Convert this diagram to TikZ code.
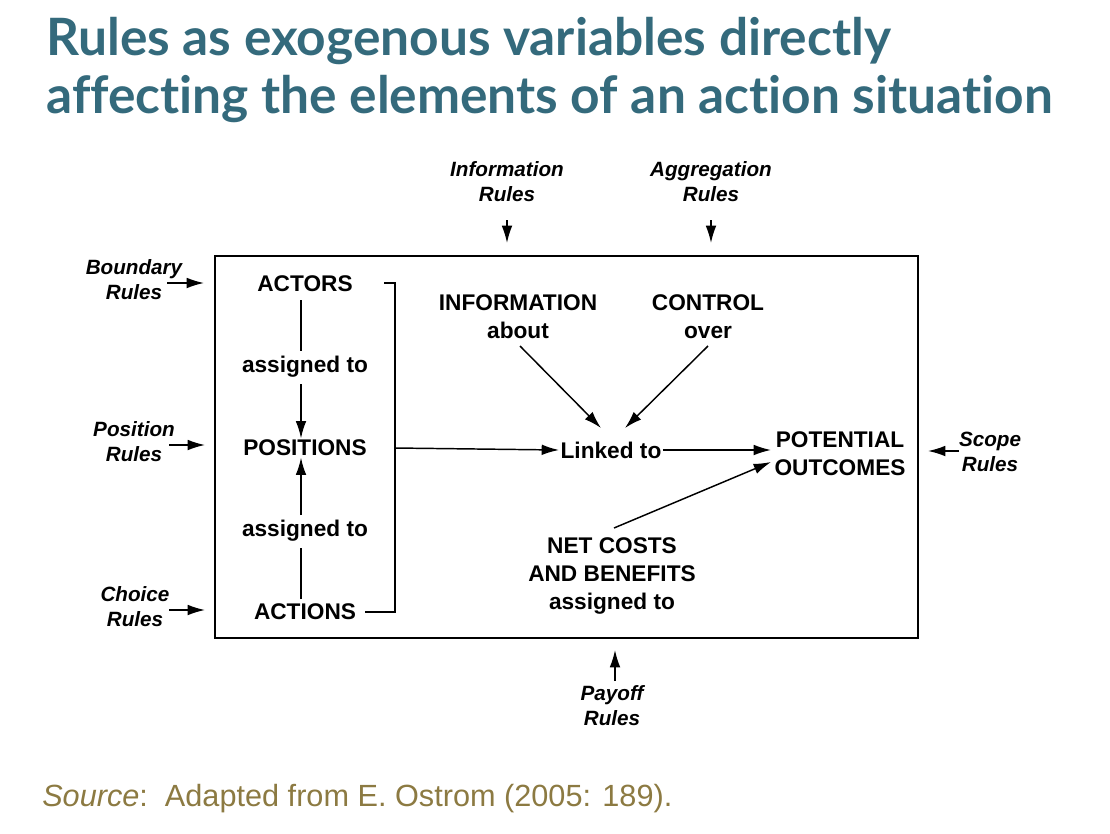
\documentclass[tikz,border=0pt]{standalone}
\usepackage{fontspec}
\setmainfont{Liberation Sans}
\newfontfamily\titlefont[Ligatures=NoCommon]{Lato}
\usetikzlibrary{arrows.meta}
\definecolor{titleblue}{RGB}{52,106,124}
\definecolor{sourcegold}{RGB}{140,122,66}
\tikzset{
  elem/.style={font=\fontsize{17}{21}\selectfont\bfseries, inner sep=1pt, align=center},
  rule/.style={font=\fontsize{15.5}{18.8}\selectfont\bfseries\itshape, inner sep=1pt, align=center},
  conn/.style={line width=1.1pt, -{Latex[length=13pt,width=8pt]}},
  plain/.style={line width=1.1pt},
  frame/.style={line width=1.5pt},
  heading/.style={anchor=base west, inner sep=0, text=titleblue, font=\fontsize{38.6}{44}\selectfont\titlefont\bfseries},
}
\begin{document}
\begin{tikzpicture}[x=0.75pt,y=-0.75pt]
\useasboundingbox (0,0) rectangle (1110,833);

% heading
\node[heading] (t1) at (46,55) {Rules as exogenous variables directly};
\node[heading] (t2) at (46,113) {affecting the elements of an action situation};

% action situation frame
\draw[frame] (215,256) rectangle (918,638);

% left column
\node[elem] (actors) at (305,284) {ACTORS};
\node[elem] (asg1) at (305,367) {assigned to};
\node[elem] (positions) at (305,448) {POSITIONS};
\node[elem] (asg2) at (305,531) {assigned to};
\node[elem] (actions) at (305,612) {ACTIONS};

\coordinate (c1) at (301,300);
\coordinate (c2) at (301,351);
\coordinate (c3) at (301,384);
\coordinate (c4) at (301,599);
\coordinate (c5) at (301,548);
\coordinate (c6) at (301,515);
\draw[plain] (c1) -- (c2);
\draw[conn] (c3) -- (c3 |- positions.north);
\draw[plain] (c4) -- (c5);
\draw[conn] (c6) -- (c6 |- positions.south);

% bracket gathering the left column
\coordinate (bl) at (384,283);
\coordinate (bt) at (395,283);
\coordinate (bb) at (395,612);
\coordinate (br) at (365,612);
\coordinate (bm) at (395,448);
\draw[plain] (bl) -- (bt) -- (bb) -- (br);

% middle
\node[elem] (info) at (518,317) {INFORMATION\\about};
\node[elem] (ctrl) at (708,317) {CONTROL\\over};
\node[elem] (linked) at (611,450) {Linked to};
\node[elem] (outc) at (840,454) {POTENTIAL\\OUTCOMES};
\node[elem] (net) at (612,576) {NET COSTS\\AND BENEFITS\\assigned to};

\coordinate (i1) at (520,346);
\coordinate (i2) at (601,428);
\coordinate (k1) at (708,346);
\coordinate (k2) at (625,428);
\coordinate (n1) at (614,528);
\coordinate (o1) at (771,450);
\coordinate (o2) at (771,462);
\draw[conn] (bm) -- (linked.west);
\draw[conn] (i1) -- (i2);
\draw[conn] (k1) -- (k2);
\draw[conn] (linked.east) -- (o1);
\draw[conn] (n1) -- (o2);

% exogenous rules
\node[rule] (inforule) at (507,182) {Information\\Rules};
\node[rule] (aggrule) at (711,182) {Aggregation\\Rules};
\node[rule] (boundrule) at (134,280) {Boundary\\Rules};
\node[rule] (posrule) at (134,442) {Position\\Rules};
\node[rule] (choicerule) at (135,607) {Choice\\Rules};
\node[rule] (scoperule) at (990,452) {Scope\\Rules};
\node[rule] (payrule) at (612,706) {Payoff\\Rules};

\coordinate (r1) at (507,220);
\coordinate (r2) at (711,220);
\coordinate (r3) at (167,283);
\coordinate (r4) at (169,445);
\coordinate (r5) at (169,610);
\coordinate (r6) at (959,451);
\coordinate (r7) at (615,681);
\draw[conn] (r1) -- +(0,23);
\draw[conn] (r2) -- +(0,23);
\draw[conn] (r3) -- +(37,0);
\draw[conn] (r4) -- +(36,0);
\draw[conn] (r5) -- +(36,0);
\draw[conn] (r6) -- +(-31,0);
\draw[conn] (r7) -- +(0,-31);

% citation
\node[anchor=base west, inner sep=0, text=sourcegold, font=\fontsize{23}{26}\selectfont] (src) at (42,806) {\textit{Source}:~~Adapted from E. Ostrom (2005: 189).};
\end{tikzpicture}
\end{document}
